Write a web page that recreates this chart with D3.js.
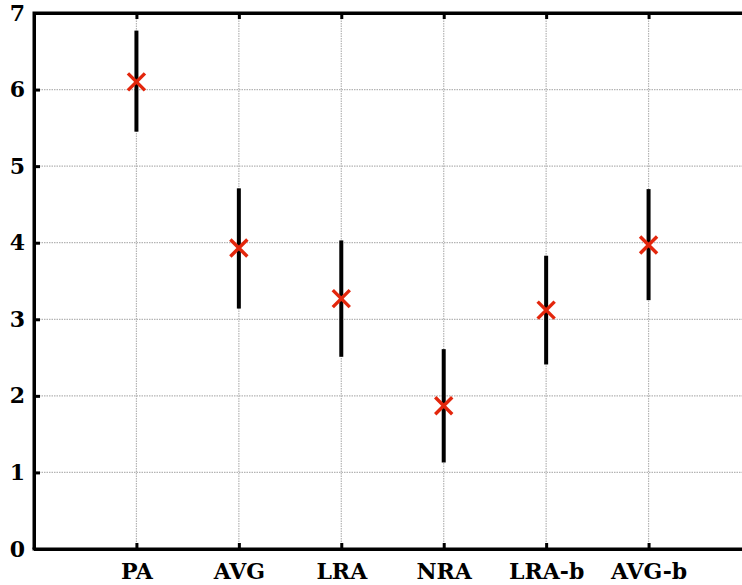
<!DOCTYPE html>
<html><head><meta charset="utf-8">
<script src="https://cdn.jsdelivr.net/npm/d3@7"></script>
<style>html,body{margin:0;padding:0;background:#fff;overflow:hidden}</style>
</head><body>
<svg id="c" width="742" height="585"></svg>
<script>
const categories = ["PA","AVG","LRA","NRA","LRA-b","AVG-b"];
const means = [6.10, 3.93, 3.27, 1.87, 3.12, 3.97];
const upper = [6.77, 4.71, 4.03, 2.61, 3.83, 4.70];
const lower = [5.45, 3.14, 2.51, 1.13, 2.41, 3.25];
const yTicks = [0,1,2,3,4,5,6,7];

const svg = d3.select("#c");
const L = 34, T = 13, B = 549, R = 751;
const x = d3.scaleLinear().domain([0,7]).range([L,R]);
const y = d3.scaleLinear().domain([0,7]).range([B,T]);
const font = "'DejaVu Serif', serif";

// grid
const g = svg.append("g");
g.selectAll(".hg").data(yTicks.slice(1,-1)).join("line")
  .attr("x1",L).attr("x2",R).attr("y1",d=>y(d)).attr("y2",d=>y(d))
  .attr("stroke","#b4b4b4").attr("stroke-width",1.2).attr("stroke-dasharray","1.5,1");
g.selectAll(".vg").data(categories).join("line")
  .attr("x1",(d,i)=>x(i+1)).attr("x2",(d,i)=>x(i+1)).attr("y1",T).attr("y2",B)
  .attr("stroke","#b4b4b4").attr("stroke-width",1.2).attr("stroke-dasharray","1.5,1");

// error bars
svg.selectAll(".eb").data(categories).join("line")
  .attr("x1",(d,i)=>x(i+1)).attr("x2",(d,i)=>x(i+1))
  .attr("y1",(d,i)=>y(lower[i])).attr("y2",(d,i)=>y(upper[i]))
  .attr("stroke","#000").attr("stroke-width",4);

// crosses
const s = 8.5;
svg.selectAll(".cr").data(categories).join("path")
  .attr("d",(d,i)=>{const cx=x(i+1), cy=y(means[i]);
    return `M${cx-s},${cy-s}L${cx+s},${cy+s}M${cx-s},${cy+s}L${cx+s},${cy-s}`;})
  .attr("stroke","#e3260c").attr("stroke-width",3.4).attr("fill","none");

// axes with inner ticks
const axB = d3.axisBottom(x).tickValues([1,2,3,4,5,6]).tickSizeInner(-6).tickSizeOuter(0)
  .tickFormat((d)=>categories[d-1]).tickPadding(14);
const axL = d3.axisLeft(y).tickValues(yTicks).tickSizeInner(-6).tickSizeOuter(0)
  .tickFormat(d3.format("d")).tickPadding(9);
const axT = d3.axisTop(x).tickValues([1,2,3,4,5,6]).tickSizeInner(-6).tickSizeOuter(0).tickFormat("");

function style(sel){
  sel.select(".domain").attr("stroke","#000").attr("stroke-width",3);
  sel.selectAll(".tick line").attr("stroke","#000").attr("stroke-width",3);
  sel.selectAll(".tick text").attr("fill","#000").attr("font-family",font)
    .attr("font-weight","bold").attr("font-size","22px");
}
svg.append("g").attr("transform",`translate(0,${B})`).call(axB).call(style);
svg.append("g").attr("transform",`translate(${L},0)`).call(axL).call(style);
svg.append("g").attr("transform",`translate(0,${T})`).call(axT).call(style);
// frame
svg.append("path").attr("d",`M${L},${B}L${L},${T}L${R},${T}`).attr("fill","none").attr("stroke","#000").attr("stroke-width",3);
svg.append("line").attr("x1",L-1.5).attr("x2",R).attr("y1",B).attr("y2",B).attr("stroke","#000").attr("stroke-width",3);
</script>
</body></html>
